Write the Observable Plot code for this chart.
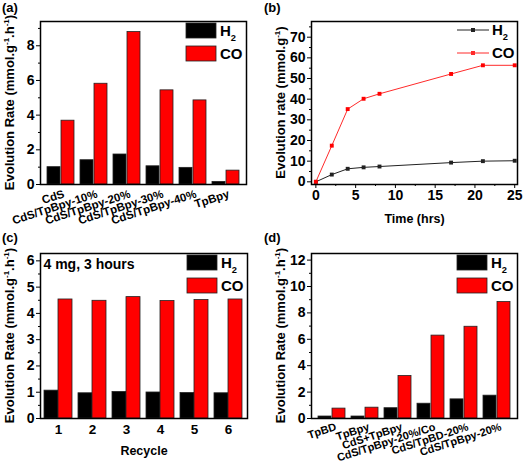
<!DOCTYPE html>
<html><head><meta charset="utf-8">
<script src="https://cdn.jsdelivr.net/npm/d3@7"></script>
<script src="https://cdn.jsdelivr.net/npm/@observablehq/plot@0.6"></script>
<style>
html,body{margin:0;padding:0;background:#fff;}
#fig{position:relative;width:524px;height:461px;overflow:hidden;background:#fff;}
#fig svg{position:absolute;}
</style></head><body><div id="fig"></div>
<script>
// ---- data ----
const catsA = ["CdS","CdS/TpBpy-10%","CdS/TpBpy-20%","CdS/TpBpy-30%","CdS/TpBpy-40%","TpBpy"];
const h2A = [1.0, 1.4, 1.73, 1.05, 0.96, 0.15];
const coA = [3.68, 5.81, 8.79, 5.43, 4.85, 0.8];

const timeB = [0, 2, 4, 6, 8, 17, 21, 25];
const h2B = [0, 3.5, 6.3, 7.0, 7.4, 9.3, 10.0, 10.2];
const coB = [0, 17.5, 35.2, 40.2, 42.6, 52.2, 56.4, 56.4];

const cyclesC = ["1","2","3","4","5","6"];
const h2C = [1.06, 0.96, 1.01, 0.99, 0.97, 0.96];
const coC = [4.53, 4.48, 4.62, 4.47, 4.51, 4.53];

const catsD = ["TpBD","TpBpy","CdS+TpBpy","CdS/TpBpy-20%/Co","CdS/TpBD-20%","CdS/TpBpy-20%"];
const h2D = [0.15, 0.15, 0.78, 1.12, 1.45, 1.73];
const coD = [0.75, 0.82, 3.22, 6.28, 6.95, 8.82];

const ticksA = [0,2,4,6,8], minorA = [1,3,5,7,9];
const ticksBx = [0,5,10,15,20,25], minorBx = [2.5,7.5,12.5,17.5,22.5];
const ticksBy = [0,10,20,30,40,50,60,70], minorBy = [5,15,25,35,45,55,65,75];
const ticksC = [0,1,2,3,4,5,6], minorC = [0.5,1.5,2.5,3.5,4.5,5.5];
const ticksD = [0,2,4,6,8,10,12], minorD = [1,3,5,7,9,11];

const FONT = "'Liberation Sans', Arial, Helvetica, sans-serif";
const RED = "#ff0000";

// ---- helpers ----
function addRich(text, parts, size) {
  text.attr("font-size", size).attr("font-family", FONT);
  let shift = 0;
  for (const [s, kind] of parts) {
    const target = kind === "sup" ? -0.42 * size : kind === "sub" ? 0.3 * size : 0;
    const ts = text.append("tspan").text(s).attr("dy", target - shift);
    if (kind) ts.attr("font-size", size * 0.62);
    shift = target;
  }
}
function yTitle(parts, x) {
  return (index, scales, values, dim) => {
    const cy = dim.marginTop + (dim.height - dim.marginTop - dim.marginBottom) / 2;
    const g = d3.create("svg:g");
    const t = g.append("text").attr("transform", `translate(${x},${cy}) rotate(-90)`)
      .attr("text-anchor", "middle").attr("font-weight", "bold").attr("fill", "black");
    addRich(t, parts, 13);
    return g.node();
  };
}
function panelLabel(s) {
  return () => {
    const g = d3.create("svg:g");
    g.append("text").attr("x", 2).attr("y", 12).attr("font-size", 13).attr("text-anchor", "start")
      .attr("font-family", FONT).attr("font-weight", "bold").attr("fill", "black").text(s);
    return g.node();
  };
}
function barLegend() {
  return (index, scales, values, dim) => {
    const right = dim.width - dim.marginRight;
    const top = dim.marginTop;
    const g = d3.create("svg:g");
    [["H", "2", "#000"], ["CO", null, RED]].forEach(([t, sub, c], i) => {
      const y = top + 2 + i * 23;
      g.append("rect").attr("x", right - 60).attr("y", y).attr("width", 30).attr("height", 15)
        .attr("fill", c).attr("stroke", "#222").attr("stroke-width", 0.8);
      const tx = g.append("text").attr("x", right - 26).attr("y", y + 13).attr("text-anchor", "start")
        .attr("font-weight", "bold").attr("fill", "black");
      addRich(tx, sub ? [[t], [sub, "sub"]] : [[t]], 15);
    });
    return g.node();
  };
}
function lineLegend() {
  return (index, scales, values, dim) => {
    const right = dim.width - dim.marginRight;
    const top = dim.marginTop;
    const g = d3.create("svg:g");
    [["H", "2", "#222"], ["CO", null, "#ff2a2a"]].forEach(([t, sub, c], i) => {
      const y = top + 9 + i * 23;
      g.append("line").attr("x1", right - 60).attr("x2", right - 28).attr("y1", y).attr("y2", y)
        .attr("stroke", c).attr("stroke-width", 1);
      g.append("rect").attr("x", right - 46).attr("y", y - 2).attr("width", 4).attr("height", 4).attr("fill", c);
      const tx = g.append("text").attr("x", right - 25).attr("y", y + 5).attr("text-anchor", "start")
        .attr("font-weight", "bold").attr("fill", "black");
      addRich(tx, sub ? [[t], [sub, "sub"]] : [[t]], 15);
    });
    return g.node();
  };
}
const style = {fontFamily: FONT, fontSize: "13px", fontWeight: "bold", color: "black", background: "transparent", overflow: "visible"};
const rateParts = [["Evolution Rate (mmol.g"], ["-1", "sup"], [".h"], ["-1", "sup"], [")"]];
const intFmt = d3.format("d");
const txt = {fontFamily: FONT, fontWeight: "bold"};

function barPanel({cats, h2, co, yDomain, ticks, minor, ml, mr, mt, mb, height, rotate, xFont, xPad, xDx = 0, xDy = 0, titleX, label, extra = [], xTitle, plainX = false}) {
  const rows = cats.map((c, i) => ({cat: c, h2: h2[i], co: co[i]}));
  const xAxis = plainX
    ? Plot.text(cats, {x: (d) => d, frameAnchor: "bottom", lineAnchor: "top", dy: xPad, fontSize: xFont, fill: "black", ...txt})
    : Plot.axisX({tickRotate: rotate, tickSize: 0, tickPadding: xPad, dx: xDx, dy: xDy, fontSize: xFont, label: null, ...txt});
  return Plot.plot({
    width: 262, height, marginLeft: ml, marginRight: mr, marginTop: mt, marginBottom: mb,
    style,
    x: {type: "band", domain: cats, paddingInner: 0.176, paddingOuter: 0.118, label: null, axis: null},
    y: {domain: yDomain, label: null},
    marks: [
      Plot.barY(rows, {x: "cat", y: "h2", fill: "#000", stroke: "#222", strokeWidth: 0.8, insetRight: 14}),
      Plot.barY(rows, {x: "cat", y: "co", fill: RED, stroke: "#222", strokeWidth: 0.8, insetLeft: 14}),
      Plot.axisY({ticks, tickSize: 4, tickPadding: 2, fontSize: 14, tickFormat: intFmt, label: null, ...txt}),
      Plot.axisY({ticks: minor, tickSize: 2, tickFormat: () => "", label: null}),
      xAxis,
      Plot.frame({stroke: "black", strokeWidth: 1.5}),
      ...(xTitle ? [Plot.text([xTitle], {frameAnchor: "bottom", dy: 36, fontSize: 12.5, fill: "black", ...txt})] : []),
      ...extra,
      barLegend(),
      yTitle(rateParts, titleX),
      panelLabel(label)
    ]
  });
}

const fig = document.getElementById("fig");
function place(svg, left, top) { svg.style.left = left + "px"; svg.style.top = top + "px"; fig.appendChild(svg); }

// (a)
place(barPanel({cats: catsA, h2: h2A, co: coA, yDomain: [0, 9.4], ticks: ticksA, minor: minorA,
  ml: 40, mr: 16, mt: 21, mb: 46, height: 230, rotate: -18, xFont: 11.5, xPad: 6, xDx: 3, xDy: 3,
  titleX: 14, label: "(a)"}), 0, 0);

// (b)
{
  const rowsH = timeB.map((t, i) => ({t, v: h2B[i]}));
  const rowsC = timeB.map((t, i) => ({t, v: coB[i]}));
  const svg = Plot.plot({
    width: 262, height: 230, marginLeft: 49, marginRight: 7, marginTop: 21, marginBottom: 46,
    style,
    x: {domain: [-0.55, 25.35], label: null},
    y: {domain: [-1.3, 77.6], label: null},
    marks: [
      Plot.line(rowsH, {x: "t", y: "v", stroke: "#222", strokeWidth: 1}),
      Plot.dot(rowsH, {x: "t", y: "v", symbol: "square", r: 2.2, fill: "#222"}),
      Plot.line(rowsC, {x: "t", y: "v", stroke: "#ff2a2a", strokeWidth: 1}),
      Plot.dot(rowsC, {x: "t", y: "v", symbol: "square", r: 2.2, fill: RED}),
      Plot.axisY({ticks: ticksBy, tickSize: 4, tickPadding: 2, fontSize: 14, tickFormat: intFmt, label: null, ...txt}),
      Plot.axisY({ticks: minorBy, tickSize: 2, tickFormat: () => "", label: null}),
      Plot.axisX({ticks: ticksBx, tickSize: 4, tickPadding: 2, fontSize: 14, tickFormat: intFmt, label: null, ...txt}),
      Plot.axisX({ticks: minorBx, tickSize: 2, tickFormat: () => "", label: null}),
      Plot.frame({stroke: "black", strokeWidth: 1.5}),
      Plot.text(["Time (hrs)"], {frameAnchor: "bottom", dy: 38, fontSize: 12.5, fill: "black", ...txt}),
      lineLegend(),
      yTitle([["Evolution rate (mmol.g"], ["-1", "sup"], [")"]], 23),
      panelLabel("(b)")
    ]
  });
  place(svg, 262, 0);
}

// (c)
place(barPanel({cats: cyclesC, h2: h2C, co: coC, yDomain: [0, 6.28], ticks: ticksC, minor: minorC,
  ml: 40, mr: 15, mt: 23, mb: 43, height: 231, rotate: 0, xFont: 13.5, xPad: 6, plainX: true,
  titleX: 14, label: "(c)", xTitle: "Recycle",
  extra: [Plot.text(["4 mg, 3 hours"], {frameAnchor: "top-left", dx: 3, dy: 6, textAnchor: "start", lineAnchor: "top", fontSize: 14, fill: "black", ...txt})]}), 0, 230);

// (d)
place(barPanel({cats: catsD, h2: h2D, co: coD, yDomain: [0, 12.5], ticks: ticksD, minor: minorD,
  ml: 49, mr: 7, mt: 23, mb: 43, height: 231, rotate: -18, xFont: 11, xPad: 5, xDx: 4, xDy: 3,
  titleX: 23, label: "(d)"}), 262, 230);
</script>
</body></html>
